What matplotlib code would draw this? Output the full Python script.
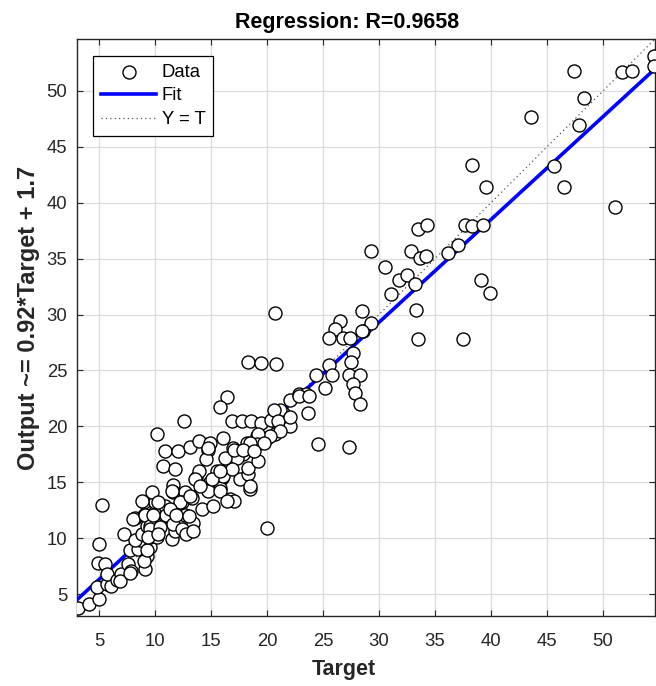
import matplotlib
matplotlib.use("Agg")
import matplotlib.pyplot as plt
import numpy as np

plt.rcParams['font.family'] = ['Liberation Sans', 'DejaVu Sans']

# Data (Target, Output)
target = [
    3.15, 4.1, 5.0, 4.8, 5.7, 6.1, 4.9, 5.5, 5.7, 6.6, 7.0, 7.6, 7.9, 7.2, 7.8, 8.5, 8.7, 9.1, 9.25, 9.6,
    8.2, 8.8, 9.6, 8.2, 9.0, 9.25, 10.0, 9.85, 10.15, 10.9, 11.5, 11.8, 9.0, 10.0, 10.9, 11.8, 8.0, 5.3,
    5.0, 6.9, 7.8, 9.0, 9.25,
    9.7, 8.8, 10.3, 11.6, 11.6, 12.7, 12.4, 13.3, 13.7, 11.5, 12.2, 13.1, 14.2, 9.1, 11.0, 12.7, 13.4,
    9.55, 11.6, 9.85, 11.3, 11.9, 13.0, 9.55, 10.45, 9.4, 10.3, 12.4, 12.8, 13.4, 10.7, 11.8, 10.9, 12.1,
    13.1, 13.9, 10.15, 12.6, 13.9, 13.6,
    14.9, 14.75, 16.1, 17.0, 17.9, 14.6, 15.5, 14.9, 16.0, 16.7, 17.6, 17.3, 15.8, 16.7, 17.1, 15.2,
    14.75, 15.8, 16.4, 18.5, 16.1, 18.3, 14.0, 18.5, 15.05, 16.85, 15.8, 18.3, 19.2, 16.25, 14.75, 18.2,
    17.1, 16.4, 15.8, 16.85, 17.8, 18.6, 19.5, 20.4, 18.8,
    21.45, 22.05, 22.9, 23.5, 21.2, 22.05, 21.0, 23.7, 19.1, 20.0, 20.7, 20.6, 21.0, 22.05, 21.2, 20.3,
    19.2, 19.1, 19.7, 18.5, 17.9, 18.8, 20.0, 20.7, 18.3, 19.5, 20.8, 24.6, 27.3, 22.9, 23.8,
    28.45, 26.5, 26.1, 25.5, 26.8, 27.4, 28.6, 27.7, 27.55, 27.3, 28.3, 27.7, 27.9, 28.3, 25.5, 24.4,
    25.8, 25.2, 29.25, 29.25, 28.5,
    38.3, 39.6, 33.5, 34.25, 37.7, 38.3, 39.25, 32.9, 33.7, 34.2, 37.1, 36.2, 30.5, 31.8, 32.5, 33.2,
    31.1, 39.1, 39.9, 33.3, 33.45, 37.5, 47.4, 51.7, 52.6, 54.6, 54.6, 48.3, 43.6, 47.9, 45.6, 46.5, 51.1,
]
output = [
    3.8, 4.1, 4.55, 5.6, 5.9, 5.7, 7.8, 7.7, 6.8, 6.3, 6.8, 7.7, 7.1, 10.4, 8.9, 9.0, 9.8, 7.2, 8.4, 9.2,
    9.8, 10.4, 10.1, 11.85, 12.1, 11.1, 12.3, 11.0, 10.1, 12.0, 9.9, 10.65, 13.2, 13.2, 12.9, 12.6, 11.7, 13.0,
    9.5, 6.2, 6.9, 8.0, 8.9,
    14.1, 13.3, 13.2, 14.8, 14.1, 14.1, 13.2, 13.6, 15.4, 14.2, 13.2, 13.8, 12.6, 12.1, 12.1, 12.1, 11.4,
    11.1, 11.25, 12.1, 12.6, 12.1, 12.0, 10.8, 11.0, 10.1, 10.4, 10.8, 10.4, 10.65, 16.5, 16.2, 17.8, 17.8,
    18.2, 18.7, 19.3, 20.5, 16.0, 15.3,
    18.5, 17.9, 19.0, 18.1, 17.5, 17.05, 16.0, 15.0, 15.4, 16.3, 15.3, 17.2, 14.5, 13.5, 13.3, 12.9,
    14.2, 14.2, 13.3, 14.4, 15.6, 15.7, 14.7, 14.7, 15.3, 16.2, 16.0, 16.3, 16.9, 17.2, 18.1, 18.5,
    17.9, 22.6, 21.7, 20.5, 20.5, 20.5, 20.3, 20.6, 18.4,
    21.2, 22.4, 22.9, 22.9, 21.5, 20.0, 19.7, 21.2, 19.1, 19.0, 19.3, 21.5, 20.5, 20.8, 19.6, 19.1,
    19.3, 18.4, 18.5, 18.5, 17.9, 17.8, 10.9, 30.15, 25.8, 25.7, 25.6, 18.4, 18.2, 22.7, 22.7,
    30.3, 29.4, 28.7, 27.9, 27.9, 27.9, 28.5, 26.6, 25.8, 24.6, 24.6, 23.75, 23.0, 22.0, 25.5, 24.6,
    24.6, 23.45, 35.7, 29.25, 28.5,
    43.4, 41.45, 37.7, 38.0, 38.0, 37.95, 38.0, 35.7, 35.1, 35.2, 36.25, 35.5, 34.3, 33.1, 33.5, 32.7,
    31.8, 33.1, 31.9, 30.45, 27.8, 27.8, 51.8, 51.7, 51.8, 53.1, 52.2, 49.4, 47.7, 47.0, 43.25, 41.4, 39.6,
]

fit_slope = 0.92
fit_intercept = 1.7
r_value = 0.9658
axis_limits = [3.04, 54.65]
tick_values = [5, 10, 15, 20, 25, 30, 35, 40, 45, 50]

fig = plt.figure(figsize=(6.56, 6.86), dpi=100)
ax = fig.add_axes([77/656, 1 - 616/686, 578/656, 577/686])

ax.set_xlim(axis_limits)
ax.set_ylim(axis_limits)
ax.set_xticks(tick_values)
ax.set_yticks(tick_values)

ax.grid(True, color='#dcdcdc', linewidth=0.9, zorder=0)
ax.set_axisbelow(True)

lims = np.array(axis_limits)
ax.plot(lims, lims, linestyle=(0, (1, 2.5)), color='#555555', linewidth=0.9, label='Y = T', zorder=2)
ax.plot(lims, fit_slope * lims + fit_intercept, color='#0000ff', linewidth=2.6, label='Fit', zorder=3)
ax.scatter(target, output, s=88, facecolors='white', edgecolors='black', linewidths=1.0,
           label='Data', zorder=4, clip_on=True)

ax.tick_params(direction='in', length=4, width=0.8, top=True, right=True,
               labelsize=13.3, colors='#262626')
ax.tick_params(axis='x', pad=12)
ax.tick_params(axis='y', pad=7)
for sp in ax.spines.values():
    sp.set_color('#262626')
    sp.set_linewidth(1.0)

ax.set_title(f'Regression: R={r_value}', fontsize=15.5, fontweight='bold', pad=8, x=0.468)
ax.set_xlabel('Target', fontsize=15.5, fontweight='bold', color='#262626', labelpad=6)
ax.xaxis.set_label_coords(0.461, -0.075)
ax.set_ylabel(f'Output ~= {fit_slope}*Target + {fit_intercept}', fontsize=17, fontweight='bold',
              color='#262626')
ax.yaxis.set_label_coords(-0.064, 0.516)

handles, labels = ax.get_legend_handles_labels()
order = [2, 1, 0]
leg = ax.legend([handles[i] for i in order], [labels[i] for i in order], loc='upper left',
                bbox_to_anchor=(0.028, 0.9705), borderaxespad=0, fontsize=13.3,
                fancybox=False, framealpha=1, edgecolor='black', handlelength=3.0,
                handletextpad=0.3, labelspacing=0.36, borderpad=0.42)
leg.get_frame().set_linewidth(0.9)

fig.savefig('out.png', dpi=100)
